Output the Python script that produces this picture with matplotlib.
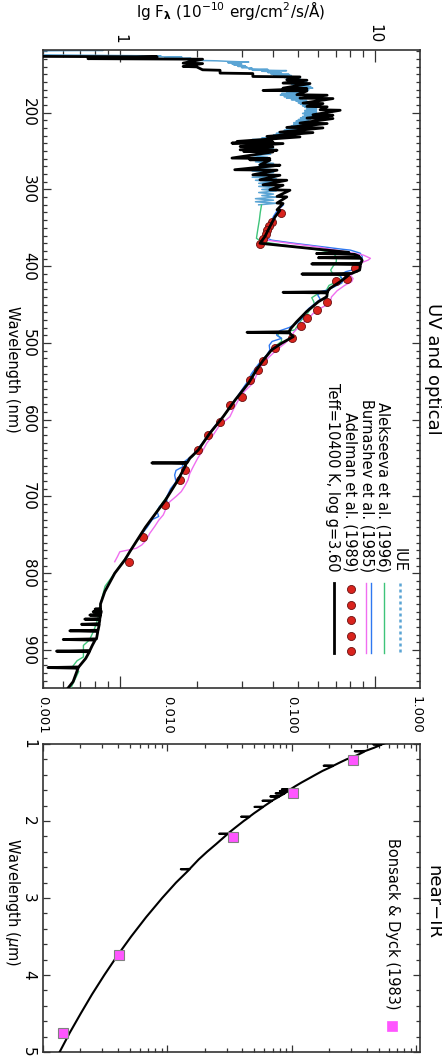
import numpy as np
import matplotlib
matplotlib.use('Agg')
import matplotlib.pyplot as plt
from matplotlib.ticker import FixedLocator, FixedFormatter, MultipleLocator, LogLocator, NullFormatter

plt.rcParams['font.family'] = ['DejaVu Sans']
plt.rcParams['mathtext.fontset'] = 'dejavusans'

# ---------------- UV / optical panel data (wavelength nm, flux 1e-10 erg/cm2/s/A) ----------------
iue_wl = [118.3, 118.8, 119.5, 124.5, 126.0, 126.8, 127.6, 128.4, 129.2, 130.0, 130.8, 131.6, 132.4, 133.2,
          134.0, 134.8, 135.6, 136.4, 137.2, 138.0, 138.8, 139.6, 140.4, 141.2, 142.0, 142.8, 143.6, 144.4,
          145.2, 146.0, 146.8, 147.6, 148.4, 149.2, 150.0, 150.8, 151.6, 152.4, 153.2, 154.0, 154.8, 155.6,
          156.4, 157.2, 158.0, 159, 160, 161, 162, 163, 164, 165, 166, 167, 168, 169, 170, 171, 172, 173,
          174, 175, 176, 177, 178, 179, 180, 181, 182, 183, 184, 185, 186, 187, 188, 189, 190, 191, 192,
          193, 194, 195, 196, 197, 198, 199, 200, 201, 202, 203, 204, 205, 206, 207, 208, 209, 210, 211,
          212, 213, 214, 215, 216, 217, 218, 219, 220, 221, 222, 223, 224, 225, 226, 227, 228, 229, 230,
          231, 232, 233, 234, 235, 236, 237, 238, 239, 240, 241, 242, 243, 244, 245, 246, 247, 248, 249,
          250, 252, 254, 256, 258, 260, 262, 264, 266, 268, 270, 272, 274, 276, 278, 280, 282, 284, 286,
          288, 290, 292, 294, 296, 298, 300, 302, 304, 306, 308, 310, 312, 314, 316, 318, 320]
iue_flux = [0.50, 0.86, 0.45, 0.45, 1.45, 1.25, 1.75, 1.5, 1.9, 1.7, 2.0, 1.85, 2.4, 2.7,
            3.2, 2.65, 3.0, 2.75, 3.0, 2.8, 3.1, 2.9, 3.15, 3.0, 3.3, 3.2, 3.8, 3.3,
            4.5, 3.6, 4.2, 3.8, 4.3, 3.9, 4.6, 4.0, 4.7, 4.2, 4.8, 4.4, 5.0, 4.5,
            5.1, 4.6, 5.2, 4.7, 5.4, 4.8, 5.3, 4.7, 5.5, 4.8, 5.6, 4.6, 5.7, 4.8, 5.5, 4.3, 5.3, 4.5,
            5.1, 4.3, 5.0, 4.25, 4.9, 4.4, 5.1, 4.5, 5.2, 4.7, 5.4, 4.9, 5.6, 5.0, 5.7, 5.1, 5.8, 5.2, 5.9,
            5.3, 5.9, 5.4, 5.9, 5.3, 5.9, 5.3, 5.9, 5.2, 5.8, 5.3, 5.9, 5.2, 5.7, 5.1, 5.6, 5.0, 5.5, 4.9,
            5.4, 4.8, 5.4, 4.8, 5.3, 4.7, 5.2, 4.6, 5.1, 4.5, 5.0, 4.4, 4.9, 4.2, 4.8, 4.1, 4.7, 4.0, 4.6,
            3.9, 4.4, 3.6, 4.1, 3.3, 3.8, 2.9, 3.5, 2.95, 3.5, 3.1, 3.6, 3.3, 3.9, 3.3, 4.0, 3.4, 3.9, 3.35,
            3.95, 3.4, 3.9, 3.3, 3.8, 3.3, 3.9, 3.4, 4.0, 3.5, 4.0, 3.4, 3.9, 3.3, 4.0, 3.4, 4.1, 3.3, 4.1,
            3.4, 4.0, 3.5, 4.2, 3.5, 4.2, 3.6, 4.1, 3.5, 4.0, 3.6, 4.1, 3.4, 4.0, 3.4, 4.1, 3.5]

model_wl = [126.6, 127.2, 129.6, 130.3, 135.4, 136.0, 139.7, 140.3, 144.1, 144.7, 148.4, 149.0, 152.8, 153.4,
            157.1, 157.7, 161.4, 162.0, 168.0, 168.6, 171.0, 171.6, 176.6, 177.2, 181.0, 181.6, 187.5, 188.1,
            191.8, 192.4, 196.2, 196.8, 202.7, 203.3, 207.0, 207.6, 213.5, 214.1, 219.2, 219.8, 225.3, 225.9,
            230.9, 231.5, 237.4, 238.0, 239.6, 240.2, 244.0, 244.6, 248.3, 248.9, 250.5, 251.1, 259.1, 259.7,
            261.3, 261.9, 267.8, 268.4, 274.3, 274.9, 280.9, 281.5, 287.4, 288.0, 293.9, 294.5, 300.4, 301.0,
            309.1, 309.7, 317.7, 318.3, 326.5, 327.1, 335.5, 348.5, 361.5, 370.1, 382.0,
            383.5, 384.5, 386.5, 388.1, 388.9, 389.7, 392.5, 396.2, 397.0, 397.8, 400.6, 405.0, 409.4, 410.2,
            411.0, 413.6, 420.2, 428.8, 433.2, 434.0, 434.8, 439.7, 446.2, 459.2, 472.3, 480.9, 485.3, 486.1,
            486.9, 491.8, 500.4, 509.1, 522.2, 535.2, 552.5, 574.3, 596.0, 617.7, 639.4, 650.2, 655.5, 656.3,
            657.1, 661.2, 678.5, 704.6, 740.0, 771.9, 782.7, 800.0, 824.0, 840.0,
            845.9, 846.7, 847.5, 849.4, 850.2, 851.0, 853.7, 854.5, 855.3, 859.0, 859.8, 860.6, 865.7, 866.5,
            867.3, 874.2, 875.0, 875.8, 885.5, 886.3, 887.1, 894.0, 900.7, 901.5, 902.3, 911.0, 922.1, 922.9,
            923.7, 941.3, 949.5]
model_flux = [0.45, 1.40, 0.75, 2.11, 1.77, 2.11, 1.77, 2.00, 2.11, 2.47, 2.47, 3.32, 3.32, 5.08,
              4.51, 5.41, 4.36, 5.56, 4.36, 5.41, 3.64, 5.41, 4.94, 6.49, 5.08, 6.84, 5.22, 6.25,
              5.41, 6.49, 6.09, 7.30, 5.71, 6.84, 5.41, 6.84, 5.08, 6.49, 4.51, 6.25, 4.24, 5.71,
              3.77, 5.08, 2.88, 3.98, 2.75, 4.36, 2.96, 3.98, 2.96, 4.13, 3.06, 3.98, 2.75, 3.87,
              3.23, 3.87, 3.54, 4.24, 2.82, 4.13, 3.32, 4.24, 3.54, 4.51, 3.64, 4.36, 3.87, 4.64,
              4.13, 4.51, 4.13, 4.36, 4.13, 4.24, 4.06, 3.87, 3.70, 3.54, 7.90,
              5.90, 8.30, 8.60, 8.70, 6.00, 8.80, 8.90, 8.80, 5.65, 8.75, 8.75, 8.70, 8.10, 5.17,
              7.90, 7.75, 7.30, 6.66, 6.50, 4.36, 6.50, 6.47, 6.00, 5.39, 4.93, 4.68, 4.60, 3.15,
              4.62, 4.78, 4.30, 3.93, 3.65, 3.43, 3.19, 2.83, 2.54, 2.25, 2.03, 1.88, 1.84, 1.335,
              1.82, 1.80, 1.69, 1.51, 1.26, 1.094, 1.046, 0.955, 0.873, 0.840,
              0.840, 0.800, 0.840, 0.845, 0.786, 0.845, 0.840, 0.763, 0.840, 0.835, 0.729, 0.835, 0.830, 0.708,
              0.830, 0.822, 0.637, 0.820, 0.810, 0.600, 0.800, 0.780, 0.763, 0.565, 0.760, 0.735, 0.690, 0.523,
              0.686, 0.656, 0.627]

alek_wl = [320.3, 330, 340, 350, 358, 363.6, 368, 372, 376, 380, 384, 388, 394, 400, 405, 409, 413, 417,
           421, 425, 429, 433, 437, 441, 446, 451, 457, 463, 470, 477, 483, 487, 490, 494, 498, 503, 510,
           520, 530, 540, 550, 560, 570, 580, 590, 600, 610, 620, 630, 640, 648, 655, 660, 668, 680, 690,
           700, 715, 730, 745, 760, 775, 790, 805, 817, 830, 844, 855, 865, 875, 887, 894, 902, 909, 914,
           921, 928, 937, 948]
alek_flux = [3.59, 3.55, 3.52, 3.48, 3.45, 3.43, 3.59, 4.3, 5.3, 6.3, 6.9, 7.05, 7.05, 6.85, 6.7, 6.8, 7.3,
             7.4, 7.0, 6.6, 6.5, 6.4, 5.9, 5.65, 5.75, 5.8, 5.55, 5.4, 5.15, 4.98, 4.85, 4.2, 4.15, 4.3, 4.3,
             4.1, 3.9, 3.68, 3.5, 3.32, 3.2, 3.05, 2.9, 2.75, 2.62, 2.5, 2.36, 2.24, 2.12, 2.02, 1.93, 1.80,
             1.79, 1.76, 1.67, 1.60, 1.53, 1.42, 1.33, 1.24, 1.15, 1.08, 1.00, 0.93, 0.875, 0.855, 0.835,
             0.825, 0.81, 0.79, 0.76, 0.72, 0.72, 0.72, 0.68, 0.655, 0.69, 0.67, 0.646]

burn_wl = [320.2, 324, 329, 335, 341, 347, 353, 358, 363.6, 366, 370, 374, 378, 379, 383, 387, 392, 397,
           400, 403, 407, 411, 414, 418, 422, 427, 431, 434, 438, 443, 449, 455, 461, 467, 474, 480, 484,
           487, 490, 494, 498, 503, 509, 516, 522, 530, 540, 552, 563, 574, 585, 596, 608, 622, 631, 639,
           645, 651, 657, 661, 666, 672, 681, 690, 702, 706, 713, 720, 726, 730, 740, 752]
burn_flux = [4.37, 4.25, 4.11, 4.0, 3.93, 3.88, 3.83, 3.80, 3.78, 3.93, 4.8, 6.0, 7.5, 8.0, 8.75, 8.9, 8.9,
             8.6, 8.75, 8.6, 7.7, 7.3, 7.35, 7.5, 7.4, 6.9, 6.5, 6.0, 5.97, 6.1, 5.8, 5.5, 5.3, 5.2, 4.95,
             4.6, 4.24, 4.12, 4.12, 4.3, 3.95, 3.85, 3.87, 3.76, 3.6, 3.45, 3.28, 3.14, 2.98, 2.83, 2.68,
             2.54, 2.36, 2.19, 2.1, 2.0, 1.95, 1.85, 1.75, 1.77, 1.66, 1.64, 1.66, 1.58, 1.52, 1.53, 1.43,
             1.40, 1.42, 1.34, 1.28, 1.20]

burn2_wl = [324.6, 332, 340, 348, 356, 362, 366, 370, 375, 380, 385.4, 389.7, 392, 396, 400, 404, 408, 412,
            416, 420, 425, 432, 440, 448, 455, 462, 468, 474, 480, 486, 492, 500, 509, 518, 527, 540, 552,
            563, 574, 585, 596, 608, 620, 630.7, 639.4, 650, 661, 670, 678.5, 686, 693.7, 700, 706.8, 715,
            724, 731, 739, 748, 756.7, 763, 767.5, 772, 778, 785]
burn2_flux = [4.24, 4.15, 3.98, 3.86, 3.78, 3.72, 3.76, 4.6, 6.0, 7.3, 8.99, 9.59, 9.4, 8.75, 8.8, 8.5, 8.3,
              8.0, 8.2, 8.1, 7.6, 7.1, 6.75, 6.66, 6.1, 5.7, 5.5, 5.22, 5.0, 4.8, 4.7, 4.45, 4.12, 3.85,
              3.62, 3.45, 3.33, 3.08, 2.92, 2.8, 2.7, 2.45, 2.32, 2.19, 2.12, 2.02, 1.94, 1.88, 1.85, 1.80,
              1.74, 1.66, 1.57, 1.52, 1.48, 1.42, 1.37, 1.31, 1.27, 1.22, 1.16, 1.0, 0.98, 0.955]

adel_wl = [331.1, 342.0, 347.6, 352.8, 358.0, 364.9, 371.4, 402.7, 416.0, 419.5, 446.2, 457.0, 467.8, 477.5,
           493.1, 506.9, 523.5, 535.2, 548.2, 570.0, 580.8, 602.6, 619.9, 639.4, 665.5, 678.5, 711.0, 753.2,
           785.0]
adel_flux = [4.27, 3.93, 3.85, 3.78, 3.74, 3.65, 3.54, 8.35, 7.78, 7.05, 6.47, 5.94, 5.42, 5.12, 4.72, 4.05,
             3.65, 3.48, 3.23, 3.00, 2.70, 2.47, 2.22, 2.03, 1.80, 1.72, 1.50, 1.23, 1.09]

# ---------------- near-IR panel data (wavelength um) ----------------
ir_wl = [0.98, 1.000, 1.002, 1.005, 1.008, 1.050, 1.090, 1.094, 1.098, 1.150, 1.200, 1.240, 1.278, 1.282,
         1.286, 1.350, 1.400, 1.450, 1.500, 1.550, 1.585, 1.588, 1.591, 1.608, 1.611, 1.614, 1.638, 1.641,
         1.644, 1.678, 1.681, 1.684, 1.734, 1.737, 1.740, 1.814, 1.817, 1.820, 1.900, 1.942, 1.945, 1.948,
         2.000, 2.100, 2.163, 2.166, 2.169, 2.300, 2.400, 2.500, 2.622, 2.626, 2.630, 2.800, 3.000, 3.250,
         3.500, 3.750, 4.000, 4.250, 4.500, 4.750, 5.000]
ir_flux = [0.58, 0.540, 0.532, 0.450, 0.525, 0.455, 0.390, 0.320, 0.383, 0.330, 0.274, 0.243, 0.218, 0.180,
           0.214, 0.176, 0.1545, 0.136, 0.1195, 0.106, 0.098, 0.083, 0.097, 0.0935, 0.080, 0.0925, 0.088,
           0.074, 0.0872, 0.080, 0.067, 0.079, 0.0695, 0.058, 0.069, 0.059, 0.050, 0.0585, 0.0496, 0.0458,
           0.039, 0.0455, 0.0410, 0.0342, 0.0306, 0.026, 0.0304, 0.0246, 0.0208, 0.0178, 0.0151, 0.0128,
           0.0150, 0.01172, 0.00907, 0.00673, 0.00511, 0.00395, 0.00311, 0.00248, 0.00201, 0.00164, 0.00136]

bd_wl = [1.208, 1.632, 2.204, 3.740, 4.757]
bd_flux = [0.310, 0.102, 0.0336, 0.00406, 0.00145]

legend_uv = ['IUE', 'Alekseeva et al. (1996)', 'Burnashev et al. (1985)', 'Adelman et al. (1989)',
             'Teff=10400 K, log g=3.60']
legend_ir = 'Bonsack & Dyck (1983)'

C_IUE = '#5aa4d4'
C_ALEK = '#3ec47a'
C_BURN = '#2f78f0'
C_BURN2 = '#f06ef0'
C_RED = '#d9231d'
C_MAG = '#ff55ff'
SPC = '#333333'

W, H = 442, 1057
fig = plt.figure(figsize=(W / 100, H / 100), dpi=100)
ax1 = fig.add_axes([43 / W, 1 - 688 / H, 377 / W, 638 / H])
ax2 = fig.add_axes([43 / W, 1 - 1052 / H, 377 / W, 308 / H])

# ---- top panel
ax1.plot(iue_flux, iue_wl, color=C_IUE, lw=1.1, zorder=2, solid_joinstyle='round')
ax1.plot(alek_flux, alek_wl, color=C_ALEK, lw=1.0, zorder=3, solid_joinstyle='round')
ax1.plot(burn_flux, burn_wl, color=C_BURN, lw=1.0, zorder=3, solid_joinstyle='round')
ax1.plot(burn2_flux, burn2_wl, color=C_BURN2, lw=1.0, zorder=3, solid_joinstyle='round')
ax1.plot(adel_flux, adel_wl, 'o', ms=5.8, mfc=C_RED, mec='#6a1010', mew=0.6, zorder=4)
ax1.plot(model_flux, model_wl, color='black', lw=2.0, zorder=5, solid_joinstyle='round')

ax1.set_xscale('log')
ax1.set_xlim(0.5, 15)
ax1.set_ylim(949.5, 118.3)

# ---- bottom panel
ax2.plot(ir_flux, ir_wl, color='black', lw=1.5, zorder=3, solid_joinstyle='round')
ax2.plot(bd_flux, bd_wl, 's', ms=7.5, mfc=C_MAG, mec='#808080', mew=0.8, zorder=4)
ax2.set_xscale('log')
ax2.set_xlim(0.001, 1.07)
ax2.set_ylim(5, 1)

for ax in (ax1, ax2):
    for s in ax.spines.values():
        s.set_color(SPC)
        s.set_linewidth(1.2)
    ax.xaxis.set_label_position('top')
    ax.tick_params(axis='both', which='both', direction='in', colors=SPC, width=0.9,
                   top=True, bottom=True, left=True, right=True,
                   labeltop=True, labelbottom=False, labelleft=True, labelright=False)
    ax.tick_params(axis='both', which='both', labelcolor='black')
    ax.xaxis.set_minor_locator(LogLocator(base=10, subs=np.arange(2, 10)))
    ax.xaxis.set_minor_formatter(NullFormatter())

ax1.xaxis.set_major_locator(FixedLocator([1, 10]))
ax1.xaxis.set_major_formatter(FixedFormatter(['1', '10']))
ax1.yaxis.set_major_locator(MultipleLocator(100))
ax1.yaxis.set_minor_locator(MultipleLocator(10))
ax1.tick_params(axis='x', which='major', length=8.6, pad=4.5, labelsize=11, labelrotation=-90)
ax1.tick_params(axis='x', which='minor', length=5.0)
ax1.tick_params(axis='y', which='major', length=5.8, pad=5, labelsize=11, labelrotation=-90)
ax1.tick_params(axis='y', which='minor', length=2.9)

ax2.xaxis.set_major_locator(FixedLocator([0.001, 0.01, 0.1, 1.0]))
ax2.xaxis.set_major_formatter(FixedFormatter(['0.001', '0.010', '0.100', '1.000']))
ax2.yaxis.set_major_locator(MultipleLocator(1))
ax2.yaxis.set_minor_locator(MultipleLocator(0.2))
ax2.tick_params(axis='x', which='major', length=5.0, pad=7.5, labelsize=9.5, labelrotation=-90)
ax2.tick_params(axis='x', which='minor', length=2.9)
ax2.tick_params(axis='y', which='major', length=5.0, pad=5, labelsize=11, labelrotation=-90)
ax2.tick_params(axis='y', which='minor', length=2.9)

for ax in (ax1, ax2):
    plt.setp(ax.get_yticklabels(), va='center')

# ---- labels and titles (rotated page)
fig.text(231 / W, 1 - 10 / H, r'lg F$_\mathbf{\lambda}$ (10$^{-10}$ erg/cm$^2$/s/Å)', ha='center', va='center',
         fontsize=11)
ax1.text(-0.082, 0.5, 'Wavelength (nm)', transform=ax1.transAxes, rotation=-90, ha='center', va='center',
         fontsize=10.5)
ax2.text(-0.082, 0.488, r'Wavelength ($\mu$m)', transform=ax2.transAxes, rotation=-90, ha='center',
         va='center', fontsize=10.5)
ax1.text(1.035, 0.5, 'UV and optical', transform=ax1.transAxes, rotation=-90, ha='center', va='center',
         fontsize=13)
ax2.text(1.035, 0.487, 'near\u2212IR', transform=ax2.transAxes, rotation=-90, ha='center', va='center',
         fontsize=13)

# ---- legend (drawn by hand because the page is rotated)
tx = [0.944, 0.902, 0.859, 0.814, 0.769]
for t, x in zip(legend_uv, tx):
    ax1.text(x, 0.1818, t, transform=ax1.transAxes, rotation=-90, ha='center', va='bottom', fontsize=10.5)
y0, y1 = 0.1646, 0.0549
ax1.plot([0.947, 0.947], [y0, y1], transform=ax1.transAxes, color=C_IUE, lw=1.8, ls=(0, (1.2, 1.2)))
ax1.plot([0.9045, 0.9045], [y0, y1], transform=ax1.transAxes, color=C_ALEK, lw=1.0)
ax1.plot([0.869, 0.869], [y0, y1], transform=ax1.transAxes, color=C_BURN, lw=1.0)
ax1.plot([0.856, 0.856], [y0, y1], transform=ax1.transAxes, color=C_BURN2, lw=1.0)
ax1.plot([0.816] * 5, [0.1552, 0.1301, 0.1066, 0.0815, 0.058], 'o', transform=ax1.transAxes,
         ms=5.8, mfc=C_RED, mec='#6a1010', mew=0.6)
ax1.plot([0.772, 0.772], [y0, y1], transform=ax1.transAxes, color='black', lw=2.0)

ax2.text(0.926, 0.1364, legend_ir, transform=ax2.transAxes, rotation=-90, ha='center', va='bottom',
         fontsize=10.5)
ax2.plot([0.926], [0.0844], 's', transform=ax2.transAxes, ms=7.5, mfc=C_MAG, mec=C_MAG, mew=0.5)

fig.savefig('out.png', dpi=100)
